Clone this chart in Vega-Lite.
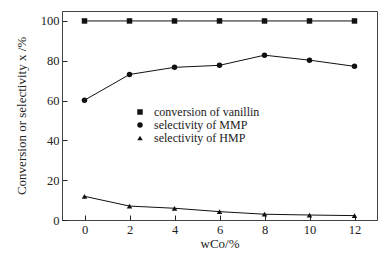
{
  "$schema": "https://vega.github.io/schema/vega-lite/v6.json",
  "width": 315,
  "height": 209,
  "autosize": {"type": "none"},
  "padding": {"left": 62, "top": 11, "right": 11, "bottom": 37},
  "background": "white",
  "config": {
    "font": "Liberation Serif",
    "view": {"stroke": "#444", "strokeWidth": 1},
    "axis": {"grid": false, "domainColor": "#444", "tickColor": "#222", "labelColor": "#222", "titleColor": "#222", "labelFont": "Liberation Serif", "titleFont": "Liberation Serif", "labelFontSize": 12.5, "titleFontSize": 13, "titleFontWeight": "normal"},
    "legend": {"labelFont": "Liberation Serif"}
  },
  "data": {"values": [
    {"w": 0, "value": 100, "series": "conversion of vanillin"},
    {"w": 2, "value": 100, "series": "conversion of vanillin"},
    {"w": 4, "value": 100, "series": "conversion of vanillin"},
    {"w": 6, "value": 100, "series": "conversion of vanillin"},
    {"w": 8, "value": 100, "series": "conversion of vanillin"},
    {"w": 10, "value": 100, "series": "conversion of vanillin"},
    {"w": 12, "value": 100, "series": "conversion of vanillin"},
    {"w": 0, "value": 60.2, "series": "selectivity of MMP"},
    {"w": 2, "value": 73.1, "series": "selectivity of MMP"},
    {"w": 4, "value": 76.7, "series": "selectivity of MMP"},
    {"w": 6, "value": 77.7, "series": "selectivity of MMP"},
    {"w": 8, "value": 82.8, "series": "selectivity of MMP"},
    {"w": 10, "value": 80.3, "series": "selectivity of MMP"},
    {"w": 12, "value": 77.2, "series": "selectivity of MMP"},
    {"w": 0, "value": 11.9, "series": "selectivity of HMP"},
    {"w": 2, "value": 7.0, "series": "selectivity of HMP"},
    {"w": 4, "value": 5.9, "series": "selectivity of HMP"},
    {"w": 6, "value": 4.2, "series": "selectivity of HMP"},
    {"w": 8, "value": 2.9, "series": "selectivity of HMP"},
    {"w": 10, "value": 2.5, "series": "selectivity of HMP"},
    {"w": 12, "value": 2.2, "series": "selectivity of HMP"}
  ]},
  "layer": [
    {
      "mark": {"type": "line", "color": "#111", "strokeWidth": 1},
      "encoding": {
        "x": {"field": "w", "type": "quantitative", "scale": {"domain": [-1, 13], "nice": false},
              "axis": {"orient": "bottom", "values": [0, 1, 2, 3, 4, 5, 6, 7, 8, 9, 10, 11, 12],
                       "labelExpr": "datum.value % 2 == 0 ? datum.label : ''",
                       "tickSize": -5,
                       "tickOpacity": {"condition": {"test": "datum.value % 2 == 1", "value": 1}, "value": 1},
                       "tickDash": {"condition": {"test": "datum.value % 2 == 1", "value": [2, 3]}, "value": []},
                       "labelPadding": 8, "title": "wCo/%", "titlePadding": 2}},
        "y": {"field": "value", "type": "quantitative", "scale": {"domain": [0, 105], "nice": false},
              "axis": {"orient": "left", "values": [0, 10, 20, 30, 40, 50, 60, 70, 80, 90, 100],
                       "labelExpr": "datum.value % 20 == 0 ? datum.label : ''",
                       "tickSize": -5,
                       "tickDash": {"condition": {"test": "datum.value % 20 == 10", "value": [2, 3]}, "value": []},
                       "labelPadding": 8, "title": "Conversion or selectivity    x /%", "titlePadding": 12}},
        "detail": {"field": "series"}
      }
    },
    {
      "mark": {"type": "point", "filled": true, "color": "#111", "opacity": 1, "size": 30},
      "encoding": {
        "x": {"field": "w", "type": "quantitative"},
        "y": {"field": "value", "type": "quantitative"},
        "shape": {"field": "series", "type": "nominal",
                  "scale": {"domain": ["conversion of vanillin", "selectivity of MMP", "selectivity of HMP"], "range": ["square", "circle", "triangle-up"]},
                  "legend": {"title": null, "orient": "none", "legendX": 72, "legendY": 95, "labelFontSize": 12, "symbolSize": 30, "symbolFillColor": "#111", "symbolStrokeColor": "#111", "rowPadding": 1, "labelOffset": 8, "labelColor": "#222"}}
      }
    }
  ]
}
